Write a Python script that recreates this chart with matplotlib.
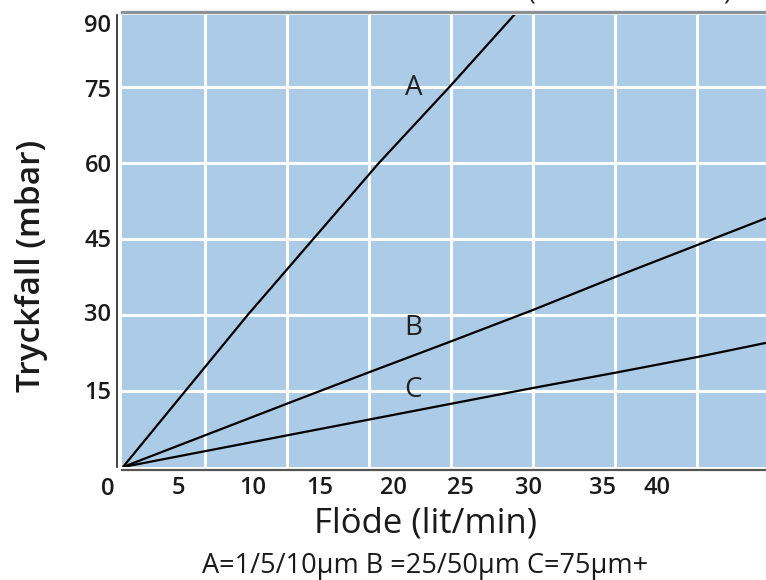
import matplotlib
matplotlib.use("Agg")
import matplotlib.pyplot as plt

# ---- data (x in lit/min along grid, y in mbar) ----
a_x = [0, 7.6, 11.6, 15.6, 19.9, 23.9]
a_y = [0, 30, 45, 60, 75, 89.4]
b_x = [0, 10, 15, 20, 25, 30, 35, 39.2]
b_y = [0, 12.5, 18.7, 24.8, 31.0, 37.5, 43.8, 49.1]
c_x = [0, 25, 30, 35, 39.2]
c_y = [0, 15.6, 18.6, 21.7, 24.5]

series_labels = ["A", "B", "C"]
label_pos_x = [17.7, 17.7, 17.7]
label_pos_y = [74.8, 27.4, 15.2]

x_grid = [5, 10, 15, 20, 25, 30, 35]
y_grid = [15, 30, 45, 60, 75]

xtick_labels = ["0", "5", "10", "15", "20", "25", "30", "35", "40"]
xtick_pos = [-0.91, 3.35, 7.93, 12.01, 16.5, 20.55, 24.7, 29.25, 32.56]
ytick_labels = ["15", "30", "45", "60", "75", "90"]
ytick_pos = [15.2, 30.6, 45.2, 60, 74.8, 87.6]

FONT = "Open Sans"
BLUE = "#abcbe6"
TXT = "#1a1a1a"
XLIM = (-0.06, 39.5)
YLIM = (0, 89.2)

fig = plt.figure(figsize=(7.66, 5.8), dpi=100)
ax = fig.add_axes([122/766, (580-467)/580, 649/766, (467-15)/580])
ax.set_facecolor(BLUE)

for gx in x_grid:
    ax.axvline(gx, color="white", lw=2.2, zorder=1)
for gy in y_grid:
    ax.axhline(gy, color="white", lw=2.2, zorder=1)

for xs, ys in [(a_x, a_y), (b_x, b_y), (c_x, c_y)]:
    ax.plot(xs, ys, color="black", lw=1.6, zorder=3, solid_capstyle="butt")

for lab, lx, ly in zip(series_labels, label_pos_x, label_pos_y):
    ax.text(lx, ly, lab, fontsize=20, family=FONT, ha="center", va="center",
            color="#222222", zorder=4)

ax.spines["right"].set_visible(False)
ax.spines["left"].set_position(("outward", 3.6))
ax.spines["bottom"].set_position(("outward", 2.2))
ax.spines["top"].set_position(("outward", 2.2))
ax.spines["left"].set_color("#222222")
ax.spines["left"].set_linewidth(1.2)
ax.spines["bottom"].set_color("#555555")
ax.spines["bottom"].set_linewidth(1.6)
ax.spines["top"].set_color("#8a9298")
ax.spines["top"].set_linewidth(2.4)

# tick labels (positions of the printed labels do not coincide with the grid)
in_x = [(p, l) for p, l in zip(xtick_pos, xtick_labels) if p >= XLIM[0]]
ax.set_xticks([p for p, _ in in_x])
ax.set_xticklabels([l for _, l in in_x])
ax.set_yticks(ytick_pos)
ax.set_yticklabels(ytick_labels)
ax.tick_params(length=0, labelsize=17, pad=4)
for t in ax.get_xticklabels() + ax.get_yticklabels():
    t.set_family(FONT)
    t.set_fontweight("semibold")
    t.set_color(TXT)
ax.set_xlim(*XLIM)
ax.set_ylim(*YLIM)
# label that lies left of the plotting area
for p, l in zip(xtick_pos, xtick_labels):
    if p < XLIM[0]:
        ax.annotate(l, xy=(p, 0), xycoords=("data", "axes fraction"),
                    xytext=(0, -7.2), textcoords="offset points",
                    ha="center", va="top", fontsize=17, family=FONT,
                    fontweight="semibold", color=TXT, annotation_clip=False)

fig.text(32/766, 1 - 266/580, "Tryckfall (mbar)", rotation=90, ha="center", va="center",
         fontsize=24, family=FONT, fontweight="semibold", color=TXT)
fig.text(425/766, 1 - 524/580, "Flöde (lit/min)", ha="center", va="center",
         fontsize=25, family=FONT, color=TXT)
fig.text(425/766, 1 - 566/580, "A=1/5/10\u00b5m B =25/50\u00b5m C=75\u00b5m+", ha="center", va="center",
         fontsize=19.5, family=FONT, color=TXT)

# clipped title remnants at the top edge
fig.text(532/766, 1 + 2/580, "(", ha="center", va="baseline", fontsize=19, family=FONT, color="#222222")
fig.text(727/766, 1 + 2/580, ")", ha="center", va="baseline", fontsize=19, family=FONT, color="#222222")

fig.savefig("out.png", dpi=100)
